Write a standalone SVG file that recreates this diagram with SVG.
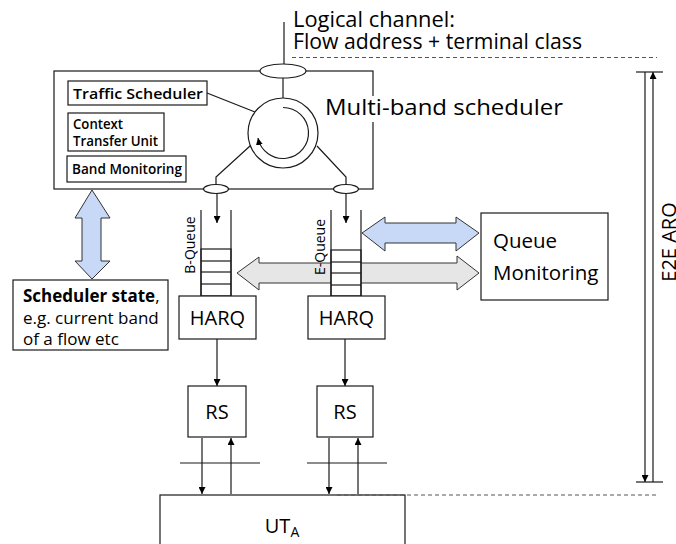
<svg xmlns="http://www.w3.org/2000/svg" width="676" height="544" viewBox="0 0 676 544">
<style>
  .ln{fill:none;stroke:#1a1a1a;stroke-width:1.2}
  .bx{fill:#fff;stroke:#1a1a1a;stroke-width:1.2}
  .dash{fill:none;stroke:#555;stroke-width:1;stroke-dasharray:4 3}
  .t{font-family:"Open Sans","Noto Sans",sans-serif;fill:#000}
  .big{font-size:20px}
  .sm{font-size:15px;font-weight:600}
  .q{font-size:14px}
  .blue{fill:#c8d9f7;stroke:#333;stroke-width:1}
  .gray{fill:#e6e6e6;stroke:#333;stroke-width:1}
</style>
<defs>
  <marker id="ah" viewBox="0 0 10 10" refX="10" refY="5" markerWidth="7" markerHeight="7" markerUnits="userSpaceOnUse" orient="auto">
    <path d="M0,0 L10,5 L0,10 z" fill="#000"/>
  </marker>
</defs>

<!-- dashed boundaries -->
<line class="dash" x1="292" y1="57.5" x2="657" y2="57.5"/>

<!-- Logical channel label -->
<g id="logical-channel">
  <text class="t" x="293" y="27" style="font-size:21px" textLength="162" lengthAdjust="spacingAndGlyphs">Logical channel:</text>
  <text class="t" x="293" y="49" style="font-size:21px" textLength="289" lengthAdjust="spacingAndGlyphs">Flow address + terminal class</text>
</g>

<!-- Multi-band scheduler node -->
<g id="scheduler">
  <rect class="bx" x="54" y="71" width="319" height="118"/>
  <rect x="320" y="96" width="250" height="26" fill="#fff"/>
  <text class="t" x="325" y="115" style="font-size:21px" textLength="238" lengthAdjust="spacingAndGlyphs">Multi-band scheduler</text>
  <g id="traffic-scheduler">
    <rect class="bx" x="68" y="81" width="139" height="24"/>
    <text class="t sm" x="73" y="99" textLength="130" lengthAdjust="spacingAndGlyphs">Traffic Scheduler</text>
  </g>
  <g id="context-transfer">
    <rect class="bx" x="68" y="113" width="96" height="38"/>
    <text class="t sm" x="73" y="129" style="font-size:13.5px" textLength="50" lengthAdjust="spacingAndGlyphs">Context</text>
    <text class="t sm" x="73" y="146" style="font-size:13.5px" textLength="85" lengthAdjust="spacingAndGlyphs">Transfer Unit</text>
  </g>
  <g id="band-monitoring">
    <rect class="bx" x="67" y="156" width="119" height="26"/>
    <text class="t sm" x="72" y="174" textLength="110" lengthAdjust="spacingAndGlyphs">Band Monitoring</text>
  </g>
  <line class="ln" x1="207" y1="93" x2="255" y2="112"/>
  <line class="ln" x1="283" y1="78" x2="283" y2="98"/>
  <circle class="bx" cx="283" cy="133" r="35"/>
  <path class="ln" d="M283,107.5 A25.5,25.5 0 1 1 258,138" marker-end="url(#ah)"/>
  <polyline class="ln" points="250,146 216,177 216,185"/>
  <polyline class="ln" points="317,146 346,177 346,185"/>
  <ellipse class="bx" cx="283" cy="71" rx="23" ry="7"/>
  <ellipse class="bx" cx="216" cy="189" rx="12.5" ry="4.5"/>
  <ellipse class="bx" cx="346" cy="189" rx="12.5" ry="4.5"/>
</g>

<!-- connectors -->
<g id="connectors">
  <line class="ln" x1="284" y1="22" x2="284" y2="64"/>
  <line class="ln" x1="217" y1="193.5" x2="217" y2="223" marker-end="url(#ah)"/>
  <line class="ln" x1="346" y1="193.5" x2="346" y2="223" marker-end="url(#ah)"/>
  <line class="ln" x1="217" y1="339" x2="217" y2="386" marker-end="url(#ah)"/>
  <line class="ln" x1="345" y1="339" x2="345" y2="386" marker-end="url(#ah)"/>
  <line class="ln" x1="202" y1="438" x2="202" y2="494" marker-end="url(#ah)"/>
  <line class="ln" x1="231" y1="494" x2="231" y2="438" marker-end="url(#ah)"/>
  <line class="ln" x1="329" y1="438" x2="329" y2="494" marker-end="url(#ah)"/>
  <line class="ln" x1="358" y1="494" x2="358" y2="438" marker-end="url(#ah)"/>
  <line class="ln" x1="180" y1="463" x2="260" y2="463"/>
  <line class="ln" x1="307" y1="463" x2="387" y2="463"/>
  <!-- blue vertical double arrow -->
  <polygon class="blue" points="92,190 110,218 101,218 101,261 110,261 92,279 75,261 82,261 82,218 75,218"/>
  <!-- gray horizontal double arrow -->
  <polygon class="gray" points="237,273 259,257 259,263 457,263 457,256 479,273 457,290 457,283 259,283 259,290"/>
  <!-- blue horizontal double arrow -->
  <polygon class="blue" points="362,233 385,217 385,223 456,223 456,217 479,233 456,251 456,243 385,243 385,251"/>
  <!-- E2E ARQ -->
  <line class="ln" x1="645" y1="72" x2="645" y2="482" marker-end="url(#ah)"/>
  <line class="ln" x1="653" y1="482" x2="653" y2="72" marker-end="url(#ah)"/>
  <line class="ln" x1="636" y1="72" x2="663" y2="72"/>
  <line class="ln" x1="636" y1="482" x2="663" y2="482"/>
</g>

<!-- B-Queue -->
<g id="b-queue">
  <rect class="bx" x="201" y="249" width="30" height="47"/>
  <line class="ln" x1="201" y1="210" x2="201" y2="296"/>
  <line class="ln" x1="231" y1="210" x2="231" y2="296"/>
  <line class="ln" x1="201" y1="261" x2="231" y2="261"/>
  <line class="ln" x1="201" y1="272" x2="231" y2="272"/>
  <line class="ln" x1="201" y1="284" x2="231" y2="284"/>
  <text class="t q" transform="translate(195,245) rotate(-90)" text-anchor="middle">B-Queue</text>
</g>

<!-- E-Queue -->
<g id="e-queue">
  <rect class="bx" x="331" y="250" width="30" height="46"/>
  <line class="ln" x1="331" y1="210" x2="331" y2="296"/>
  <line class="ln" x1="361" y1="210" x2="361" y2="296"/>
  <line class="ln" x1="331" y1="262" x2="361" y2="262"/>
  <line class="ln" x1="331" y1="273" x2="361" y2="273"/>
  <line class="ln" x1="331" y1="285" x2="361" y2="285"/>
  <text class="t q" transform="translate(325,247) rotate(-90)" text-anchor="middle">E-Queue</text>
</g>

<g id="queue-monitoring">
  <rect class="bx" x="481" y="213" width="127" height="87"/>
  <text class="t" x="493" y="248" style="font-size:20.5px">Queue</text>
  <text class="t" x="493" y="280" style="font-size:20.5px">Monitoring</text>
</g>

<g id="scheduler-state">
  <rect class="bx" x="13" y="280" width="155" height="70"/>
  <text class="t" x="23" y="302" style="font-size:17px"><tspan font-weight="bold">Scheduler state</tspan>,</text>
  <text class="t" x="23" y="324" style="font-size:17px">e.g. current band</text>
  <text class="t" x="23" y="345" style="font-size:17px">of a flow etc</text>
</g>

<g id="harq-b">
  <rect class="bx" x="179" y="296" width="77" height="43"/>
  <text class="t big" x="217.5" y="325" text-anchor="middle">HARQ</text>
</g>
<g id="harq-e">
  <rect class="bx" x="308" y="296" width="77" height="43"/>
  <text class="t big" x="346.5" y="325" text-anchor="middle">HARQ</text>
</g>

<g id="rs-b">
  <rect class="bx" x="188" y="386" width="58" height="51"/>
  <text class="t big" x="217" y="419" text-anchor="middle">RS</text>
</g>
<g id="rs-e">
  <rect class="bx" x="317" y="386" width="56" height="51"/>
  <text class="t big" x="345" y="419" text-anchor="middle">RS</text>
</g>

<g id="ut-a">
  <rect class="bx" x="160" y="495" width="245" height="60"/>
  <text class="t big" x="282" y="533" text-anchor="middle">UT<tspan font-size="14" dy="4">A</tspan></text>
</g>
<line class="dash" x1="337" y1="495" x2="658" y2="495"/>

<text class="t big" transform="translate(676,242) rotate(-90)" text-anchor="middle">E2E ARQ</text>
</svg>
